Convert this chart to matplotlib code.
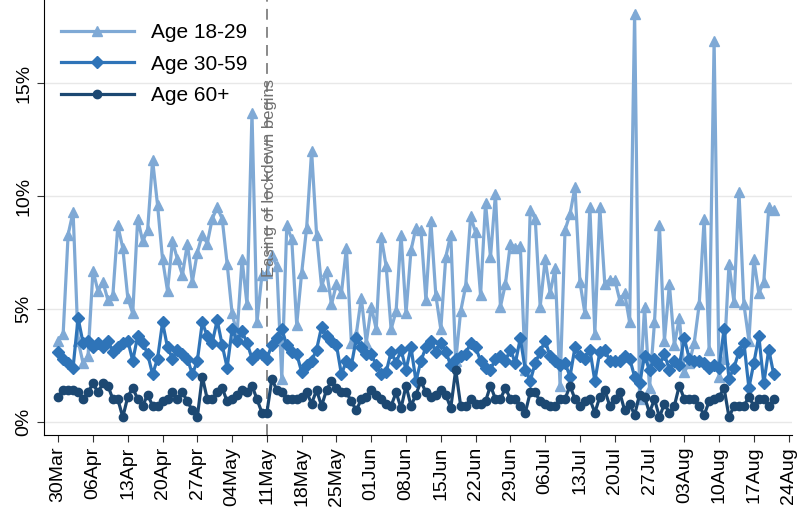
import matplotlib
matplotlib.use('Agg')
import matplotlib.pyplot as plt
import numpy as np
import pandas as pd

plt.rcParams['font.family'] = ['Liberation Sans', 'DejaVu Sans']

# daily share (%) by age group, 30 Mar - 21 Aug
age_18_29 = [3.6, 3.9, 8.3, 9.3, 3.6, 2.6, 2.9, 6.7, 5.8, 6.2,
             5.4, 5.6, 8.7, 7.7, 5.5, 4.8, 9.0, 8.0, 8.5, 11.6,
             9.6, 7.2, 5.8, 8.0, 7.2, 6.5, 7.9, 6.2, 7.5, 8.3,
             7.9, 9.0, 9.5, 9.0, 7.0, 4.8, 3.9, 7.2, 5.2, 13.7,
             4.4, 6.5, 6.6, 7.4, 6.9, 1.9, 8.7, 8.1, 4.3, 6.6,
             8.6, 12.0, 8.3, 6.0, 6.7, 5.2, 6.1, 5.7, 7.7, 3.5,
             3.9, 5.5, 3.5, 5.1, 4.1, 8.2, 6.9, 4.1, 4.9, 8.3,
             4.8, 7.6, 8.6, 8.5, 5.4, 8.9, 5.6, 4.1, 7.3, 8.3,
             2.7, 4.9, 6.0, 9.1, 8.4, 5.6, 9.7, 7.3, 10.1, 5.1,
             6.1, 7.9, 7.7, 7.8, 2.3, 9.4, 9.0, 5.1, 7.2, 5.7,
             6.8, 1.6, 8.5, 9.2, 10.4, 6.2, 4.8, 9.5, 3.9, 9.5,
             6.1, 6.3, 6.3, 5.4, 5.7, 4.4, 18.1, 1.0, 5.1, 1.5,
             4.4, 8.7, 3.6, 6.1, 3.4, 4.6, 2.2, 2.6, 3.5, 5.2,
             9.0, 3.2, 16.9, 2.0, 2.8, 7.0, 5.3, 10.2, 5.2, 3.6,
             7.2, 5.7, 6.2, 9.5, 9.4]
age_30_59 = [3.1, 2.8, 2.6, 2.4, 4.6, 3.5, 3.6, 3.3, 3.5, 3.3,
             3.6, 3.1, 3.3, 3.5, 3.6, 2.7, 3.8, 3.5, 3.0, 2.1,
             2.8, 4.4, 3.3, 2.8, 3.2, 3.0, 2.8, 2.1, 2.7, 4.4,
             3.8, 3.5, 4.5, 3.4, 2.4, 4.1, 3.6, 4.0, 3.5, 2.8,
             3.0, 3.0, 2.8, 3.4, 3.7, 4.1, 3.4, 3.1, 3.0, 2.2,
             2.5, 2.7, 3.2, 4.2, 3.8, 3.6, 3.4, 2.1, 2.7, 2.5,
             3.7, 3.3, 3.0, 3.0, 2.5, 2.1, 2.2, 3.1, 2.6, 3.2,
             2.3, 3.3, 1.8, 2.7, 3.3, 3.6, 3.1, 3.5, 3.1, 2.5,
             2.8, 2.9, 3.0, 3.5, 3.3, 2.7, 2.4, 2.3, 2.8, 2.9,
             2.7, 3.2, 2.6, 3.7, 2.3, 1.8, 2.6, 3.1, 3.6, 2.9,
             2.7, 2.5, 2.6, 2.0, 3.3, 2.9, 2.8, 3.2, 1.8, 3.1,
             3.2, 2.7, 2.7, 2.7, 2.9, 2.8, 2.0, 1.7, 2.9, 2.3,
             2.8, 2.5, 3.0, 2.3, 2.7, 2.5, 3.7, 2.8, 2.7, 2.7,
             2.6, 2.4, 2.5, 2.4, 4.1, 1.9, 2.4, 3.1, 3.5, 1.5,
             2.6, 3.8, 1.7, 3.2, 2.1]
age_60_plus = [1.1, 1.4, 1.4, 1.4, 1.3, 1.0, 1.3, 1.7, 1.3, 1.7,
               1.6, 1.0, 1.0, 0.2, 1.1, 1.5, 1.0, 0.7, 1.2, 0.7,
               0.7, 0.9, 1.0, 1.3, 1.0, 1.3, 0.9, 0.5, 0.2, 2.0,
               1.0, 1.0, 1.3, 1.5, 0.9, 1.0, 1.2, 1.4, 1.3, 1.6,
               1.0, 0.4, 0.4, 1.9, 1.4, 1.3, 1.0, 1.0, 1.0, 1.1,
               1.3, 0.8, 1.4, 0.7, 1.4, 1.8, 1.5, 1.3, 1.3, 0.9,
               0.5, 1.0, 1.1, 1.4, 1.2, 1.0, 0.8, 0.7, 1.3, 0.6,
               1.6, 0.7, 1.2, 1.8, 1.3, 1.1, 1.2, 1.4, 1.2, 0.6,
               2.3, 0.7, 0.7, 1.0, 0.8, 0.8, 0.9, 1.6, 1.0, 1.0,
               1.5, 1.0, 1.0, 0.7, 0.4, 1.3, 1.3, 0.9, 0.8, 0.7,
               0.7, 1.0, 1.0, 1.6, 1.0, 0.7, 0.9, 1.0, 0.4, 1.1,
               1.4, 0.7, 1.0, 1.3, 0.5, 0.8, 0.3, 1.2, 1.1, 0.4,
               1.0, 0.2, 0.8, 0.4, 0.7, 1.6, 1.0, 1.0, 1.0, 0.7,
               0.3, 0.9, 1.0, 1.1, 1.5, 0.2, 0.7, 0.7, 0.7, 1.1,
               0.7, 1.0, 1.0, 0.7, 1.0]

dates = pd.date_range('2020-03-30', periods=len(age_18_29), freq='D')
tick_dates = pd.date_range('2020-03-30', '2020-08-24', freq='7D')
easing_date = pd.Timestamp('2020-05-11')

c1 = '#7fa9d5'
c2 = '#2f74b8'
c3 = '#1c4872'

fig = plt.figure(figsize=(8.05, 5.16), dpi=100)
ax = fig.add_axes([0.055, 0.157, 0.929, 0.843])

ax.plot(dates, age_18_29, color=c1, lw=2.3, marker='^', ms=7.5, label='Age 18-29')
ax.plot(dates, age_30_59, color=c2, lw=2.3, marker='D', ms=6.5, label='Age 30-59')
ax.plot(dates, age_60_plus, color=c3, lw=2.3, marker='o', ms=6, label='Age 60+')

ax.axvline(easing_date, color='#808080', lw=1.3, ls=(0, (6, 4)), zorder=1)
ax.text(easing_date + pd.Timedelta(hours=14), 6.4, 'Easing of lockdown begins',
        rotation=90, color='#707070', fontsize=12, ha='center', va='bottom')

ax.set_ylim(-0.59, 18.7)
ax.set_xlim(pd.Timestamp('2020-03-30') - pd.Timedelta(days=2.8),
            pd.Timestamp('2020-03-30') + pd.Timedelta(days=147.7))
ax.set_yticks([0, 5, 10, 15])
ax.set_yticklabels(['0%', '5%', '10%', '15%'], rotation=90, va='center')
ax.set_xticks(tick_dates)
ax.set_xticklabels([d.strftime('%d%b') for d in tick_dates], rotation=90)
ax.tick_params(labelsize=14, length=5, color='#333333')
ax.grid(axis='y', color='#e8e8e8', lw=1)
ax.set_axisbelow(True)
for s in ['top', 'right']:
    ax.spines[s].set_visible(False)

ax.legend(loc='upper left', frameon=False, fontsize=15, handlelength=3.5,
          bbox_to_anchor=(0.0, 0.985), borderaxespad=0.4, labelspacing=0.6)

fig.savefig('out.png', dpi=100)
